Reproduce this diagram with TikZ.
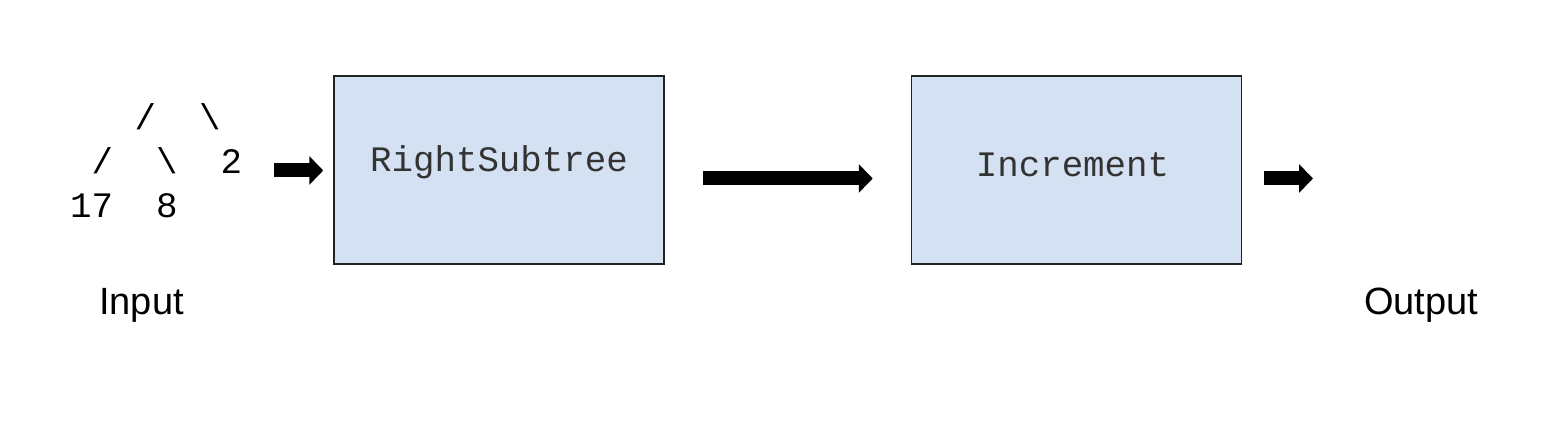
\documentclass[tikz,border=0pt]{standalone}
\usepackage{fontspec}
\setmainfont{Liberation Sans}
\newfontfamily\monofont{Liberation Mono}
\usetikzlibrary{arrows.meta}
\definecolor{boxfill}{RGB}{212,225,242}
\definecolor{boxline}{RGB}{34,34,34}
\definecolor{monotext}{RGB}{51,51,51}
\tikzset{
  stagebox/.style={draw=boxline, line width=1.5pt, fill=boxfill, minimum width=330pt, minimum height=188pt, inner sep=0pt},
  monolabel/.style={font=\monofont\fontsize{35.8}{44}\selectfont, text=monotext, inner sep=0pt},
  sanslabel/.style={font=\fontsize{38}{44}\selectfont, inner sep=0pt, anchor=base west},
  blockarrow/.style={line width=14pt, -{Triangle[length=14pt,width=28pt]}},
}
\begin{document}
\begin{tikzpicture}[x=1pt,y=-1pt]
\useasboundingbox (0,0) rectangle (1566,446);
% tree input
\node[monolabel, text=black, align=left, anchor=base west] (tree) at (70,218)
  {~~~/~~\textbackslash\\ ~/~~\textbackslash~~2\\ 17~~8};
% boxes
\node[stagebox] (right) at (499,170) {};
\node[stagebox] (inc) at (1076.5,170) {};
\node[monolabel, anchor=base] (rightlbl) at (499,172) {RightSubtree};
\node[monolabel, anchor=base] (inclbl) at (1072.5,177) {Increment};
% labels
\node[sanslabel] (input) at (99,315) {Input};
\node[sanslabel] (output) at (1364,315) {Output};
\coordinate (outpt) at (1313,178.5);
% arrows
\draw[blockarrow] (274,170.5) -- ([xshift=-10pt]right.west |- 0,170.5);
\draw[blockarrow] ([xshift=38pt]right.east |- 0,178.5) -- ([xshift=-38pt]inc.west |- 0,178.5);
\draw[blockarrow] ([xshift=22pt]inc.east |- 0,178.5) -- (outpt);
\end{tikzpicture}
\end{document}
